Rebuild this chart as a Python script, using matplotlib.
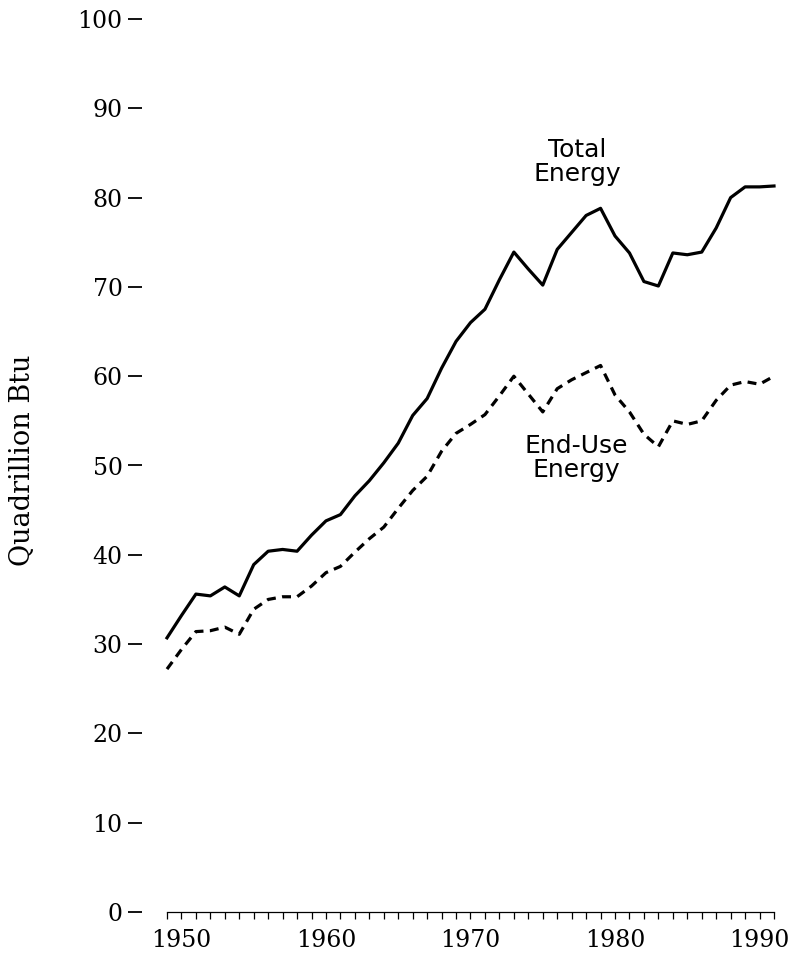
import numpy as np
import matplotlib.pyplot as plt

# Data (quadrillion Btu)
years = list(range(1949, 1992))
total_energy = [30.7, 33.2, 35.6, 35.4, 36.4, 35.4, 38.9, 40.4, 40.6, 40.4,
                42.2, 43.8, 44.5, 46.6, 48.3, 50.3, 52.5, 55.6, 57.5, 60.9,
                63.9, 66.0, 67.5, 70.8, 73.9, 72.0, 70.2, 74.2, 76.1, 78.0,
                78.8, 75.7, 73.8, 70.6, 70.1, 73.8, 73.6, 73.9, 76.6, 80.0,
                81.2, 81.2, 81.3]
end_use_energy = [27.2, 29.4, 31.4, 31.5, 31.9, 31.1, 33.9, 35.0, 35.3, 35.3,
                  36.5, 38.0, 38.7, 40.3, 41.8, 43.1, 45.2, 47.2, 48.8, 51.6,
                  53.6, 54.6, 55.7, 57.8, 60.0, 58.0, 56.0, 58.6, 59.6, 60.4,
                  61.2, 57.9, 56.0, 53.5, 52.1, 55.0, 54.6, 55.0, 57.3, 59.0,
                  59.4, 59.1, 60.0]
y_ticks = list(range(0, 101, 10))
x_labels = [1950, 1960, 1970, 1980, 1990]

fig = plt.figure(figsize=(7.94, 9.55), dpi=100)
ax = fig.add_axes([167 / 794, 43 / 955, 607 / 794, 893 / 955])

ax.plot(years, total_energy, color='black', lw=2.3, clip_on=False)
ax.plot(years, end_use_energy, color='black', lw=2.3,
        linestyle=(0, (2.8, 2.0)), clip_on=False)

ax.set_xlim(1949, 1991)
ax.set_ylim(0, 100)

# x axis: yearly ticks, labels every decade
ax.set_xticks(years, minor=True)
ax.set_xticks(x_labels)
ax.set_xticklabels([str(x) for x in x_labels])
ax.tick_params(axis='x', which='both', direction='out', length=5, width=0.9,
               pad=7, labelsize=17)

# y axis: dash ticks, no spine
ax.set_yticks(y_ticks)
ax.spines['left'].set_position(('outward', 18))
ax.spines['left'].set_visible(False)
ax.spines['top'].set_visible(False)
ax.spines['right'].set_visible(False)
ax.spines['bottom'].set_linewidth(0.9)
ax.tick_params(axis='y', direction='out', length=10, width=1.3, pad=4,
               labelsize=17)

for lab in ax.get_xticklabels() + ax.get_yticklabels():
    lab.set_family('DejaVu Serif')

fig.text(23 / 794, 1 - 460 / 955, 'Quadrillion Btu', rotation=90,
         ha='center', va='center', fontsize=19.5, family='DejaVu Serif')

ax.text(1977.4, 84.0, 'Total\nEnergy', ha='center', va='center',
        fontsize=18, family='DejaVu Sans', linespacing=1.0)
ax.text(1977.3, 50.8, 'End-Use\nEnergy', ha='center', va='center',
        fontsize=18, family='DejaVu Sans', linespacing=1.0)

fig.savefig('out.png', dpi=100)
